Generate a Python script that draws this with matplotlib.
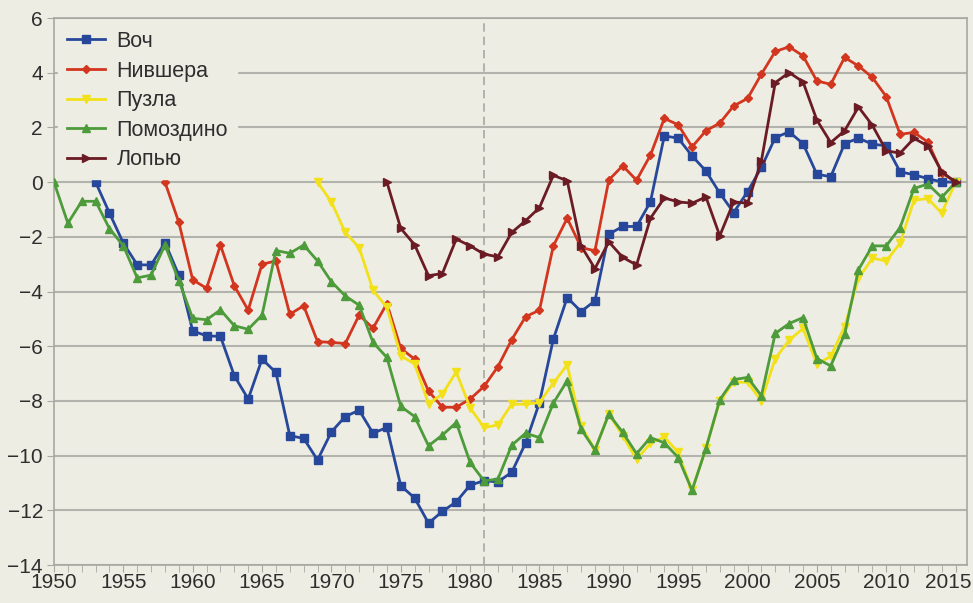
import numpy as np
import matplotlib.pyplot as plt
from matplotlib.ticker import MultipleLocator

OUT_PNG = "out.png"

plt.rcParams["font.family"] = ["Liberation Sans", "DejaVu Sans"]

# Data
years_voch = list(range(1953, 2016))
voch = [
    0, -1.13, -2.23, -3.02, -3.03, -2.21, -3.4, -5.44, -5.62, -5.64,
    -7.08, -7.93, -6.47, -6.96, -9.27, -9.37, -10.16, -9.13, -8.57, -8.34,
    -9.18, -8.97, -11.1, -11.55, -12.47, -12.04, -11.69, -11.08, -10.92, -10.96,
    -10.61, -9.54, -8.06, -5.74, -4.22, -4.73, -4.34, -1.9, -1.62, -1.62,
    -0.72, 1.69, 1.61, 0.96, 0.41, -0.4, -1.11, -0.35, 0.54, 1.63,
    1.84, 1.41, 0.29, 0.2, 1.41, 1.61, 1.39, 1.33, 0.38, 0.27,
    0.13, 0.01, 0,
]

years_nivshera = list(range(1958, 2016))
nivshera = [
    0, -1.47, -3.57, -3.88, -2.3, -3.79, -4.68, -3.0, -2.88, -4.83,
    -4.52, -5.83, -5.86, -5.9, -4.86, -5.34, -4.44, -6.08, -6.47, -7.64,
    -8.23, -8.23, -7.93, -7.47, -6.75, -5.76, -4.92, -4.68, -2.33, -1.32,
    -2.39, -2.51, 0.08, 0.6, 0.07, 0.99, 2.33, 2.1, 1.29, 1.88,
    2.16, 2.79, 3.06, 3.95, 4.78, 4.95, 4.62, 3.7, 3.58, 4.56,
    4.25, 3.83, 3.13, 1.75, 1.82, 1.47, 0.35, 0,
]

years_puzla = list(range(1969, 2016))
puzla = [
    0, -0.72, -1.84, -2.39, -3.95, -4.58, -6.35, -6.65, -8.1, -7.75,
    -6.94, -8.25, -8.97, -8.88, -8.12, -8.12, -8.06, -7.35, -6.68, -8.91,
    -9.79, -8.48, -9.27, -10.14, -9.55, -9.32, -9.88, -11.27, -9.72, -8.0,
    -7.31, -7.32, -8.0, -6.45, -5.78, -5.35, -6.65, -6.37, -5.28, -3.52,
    -2.78, -2.88, -2.23, -0.66, -0.6, -1.13, 0,
]

years_pomozdino = list(range(1950, 2016))
pomozdino = [
    0, -1.5, -0.7, -0.7, -1.7, -2.33, -3.5, -3.4, -2.3, -3.6,
    -4.98, -5.03, -4.67, -5.25, -5.38, -4.86, -2.5, -2.6, -2.3, -2.88,
    -3.64, -4.16, -4.5, -5.86, -6.41, -8.2, -8.57, -9.64, -9.25, -8.79,
    -10.25, -10.92, -10.86, -9.62, -9.18, -9.34, -8.08, -7.26, -9.03, -9.79,
    -8.48, -9.15, -9.93, -9.34, -9.53, -10.07, -11.27, -9.74, -7.96, -7.22,
    -7.14, -7.81, -5.53, -5.17, -4.95, -6.45, -6.72, -5.56, -3.2, -2.33,
    -2.33, -1.66, -0.23, -0.07, -0.56, 0,
]

years_lopyu = list(range(1974, 2016))
lopyu = [
    0, -1.69, -2.29, -3.42, -3.34, -2.08, -2.33, -2.63, -2.73, -1.84,
    -1.41, -0.93, 0.25, 0.05, -2.33, -3.16, -2.18, -2.75, -3.03, -1.32,
    -0.58, -0.72, -0.77, -0.54, -1.96, -0.72, -0.77, 0.78, 3.64, 4.01,
    3.67, 2.27, 1.45, 1.88, 2.75, 2.08, 1.15, 1.06, 1.6, 1.33,
    0.38, 0,
]

split_year = 1981
x_ticks = list(range(1950, 2016, 5))
y_ticks = list(range(-14, 7, 2))

series = [
    ("Воч", years_voch, voch, "#27489a", "s", 5.5),
    ("Нившера", years_nivshera, nivshera, "#d2361f", "D", 4.0),
    ("Пузла", years_puzla, puzla, "#f2e11a", "v", 6.0),
    ("Помоздино", years_pomozdino, pomozdino, "#4d9b3a", "^", 6.0),
    ("Лопью", years_lopyu, lopyu, "#6b1b24", ">", 6.0),
]

BG = "#eeede4"
GRID = "#b3b3ad"
TXT = "#2e2e2e"

fig = plt.figure(figsize=(9.73, 6.03), dpi=100, facecolor=BG)
ax = fig.add_axes([0.0555, 0.063, 0.938, 0.907], facecolor=BG)

for name, x, y, col, mk, ms in series:
    ax.plot(x, y, color=col, marker=mk, markersize=ms, linewidth=2.0,
            label=name, zorder=3)

ax.axvline(split_year, color="#a8a8a3", linestyle=(0, (5, 3)), linewidth=1.2, zorder=2)

ax.set_xlim(1950, 2015.8)
ax.set_ylim(-14, 6)

ax.xaxis.set_minor_locator(MultipleLocator(1))
ax.grid(axis="y", color=GRID, linewidth=1.5, zorder=1)

for s in ax.spines.values():
    s.set_color("#a8a8a2")
    s.set_linewidth(1.2)

ax.tick_params(axis="both", which="both", color="#a8a8a2", labelcolor=TXT,
               labelsize=15, direction="out")
ax.tick_params(axis="x", which="both", length=5, pad=1)
ax.tick_params(axis="y", length=5, pad=3)

# last year label is drawn separately so it stays inside the figure
ax.set_xticks(x_ticks)
ax.set_xticklabels([str(v) for v in x_ticks[:-1]] + [""])
ax.annotate(str(x_ticks[-1]), xy=(x_ticks[-1], 0),
            xycoords=("data", "axes fraction"),
            xytext=(-5, -6), textcoords="offset points",
            ha="center", va="top", fontsize=15, color=TXT)

ax.set_yticks(y_ticks)
ax.set_yticklabels([str(v).replace("-", "\u2212") for v in y_ticks])

leg = ax.legend(loc="upper left", fontsize=15.5, frameon=True, handlelength=1.75,
                borderaxespad=0.2, labelspacing=0.4, handletextpad=0.55)
leg.get_frame().set_facecolor(BG)
leg.get_frame().set_edgecolor(BG)
leg.get_frame().set_alpha(1.0)
for t in leg.get_texts():
    t.set_color(TXT)

plt.savefig(OUT_PNG, dpi=100, facecolor=BG)
plt.close()
